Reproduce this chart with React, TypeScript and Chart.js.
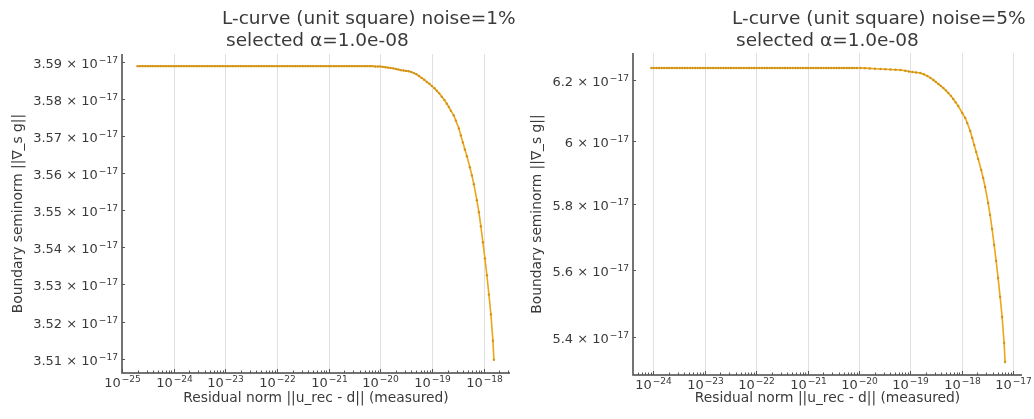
import React, { useEffect, useRef } from "react";
import { Chart, registerables } from "chart.js";

Chart.register(...registerables);

const W = 1034;
const H = 419;

// ---------- noise = 1% ----------
const residual1 = [
  2.00e-25, 2.24e-25, 2.51e-25, 2.82e-25, 3.16e-25, 3.55e-25, 3.98e-25, 4.47e-25, 5.01e-25, 5.62e-25, 6.31e-25, 7.08e-25, 7.94e-25, 8.91e-25,
  1.00e-24, 1.12e-24, 1.26e-24, 1.41e-24, 1.58e-24, 1.78e-24, 2.00e-24, 2.24e-24, 2.51e-24, 2.82e-24, 3.16e-24, 3.55e-24, 3.98e-24, 4.47e-24, 5.01e-24, 5.62e-24, 6.31e-24, 7.08e-24, 7.94e-24, 8.91e-24,
  1.00e-23, 1.12e-23, 1.26e-23, 1.41e-23, 1.58e-23, 1.78e-23, 2.00e-23, 2.24e-23, 2.51e-23, 2.82e-23, 3.16e-23, 3.55e-23, 3.98e-23, 4.47e-23, 5.01e-23, 5.62e-23, 6.31e-23, 7.08e-23, 7.94e-23, 8.91e-23,
  1.00e-22, 1.12e-22, 1.26e-22, 1.41e-22, 1.58e-22, 1.78e-22, 2.00e-22, 2.24e-22, 2.51e-22, 2.82e-22, 3.16e-22, 3.55e-22, 3.98e-22, 4.47e-22, 5.01e-22, 5.62e-22, 6.31e-22, 7.08e-22, 7.94e-22, 8.91e-22,
  1.00e-21, 1.12e-21, 1.26e-21, 1.41e-21, 1.58e-21, 1.78e-21, 2.00e-21, 2.24e-21, 2.51e-21, 2.82e-21, 3.16e-21, 3.55e-21, 3.98e-21, 4.47e-21, 5.01e-21, 5.62e-21, 6.31e-21, 7.08e-21, 7.94e-21, 8.91e-21,
  1.00e-20, 1.12e-20, 1.26e-20, 1.41e-20, 1.58e-20, 1.78e-20, 2.00e-20, 2.24e-20, 2.51e-20, 2.82e-20,
  3.16e-20, 3.55e-20, 3.98e-20, 4.47e-20, 5.01e-20, 5.62e-20, 6.31e-20, 7.08e-20, 7.94e-20, 8.91e-20,
  9.96e-20, 1.12e-19, 1.24e-19, 1.38e-19, 1.55e-19, 1.74e-19, 1.94e-19, 2.12e-19, 2.32e-19, 2.65e-19,
  2.90e-19, 3.32e-19, 3.63e-19, 3.96e-19, 4.34e-19, 4.74e-19, 5.42e-19, 5.93e-19, 6.47e-19, 7.41e-19,
  8.09e-19, 8.85e-19, 9.68e-19, 1.059e-18, 1.156e-18, 1.265e-18, 1.384e-18, 1.514e-18, 1.58e-18,
];
const seminorm1 = [
  3.5889e-17, 3.5889e-17, 3.5889e-17, 3.5889e-17, 3.5889e-17, 3.5889e-17, 3.5889e-17, 3.5889e-17, 3.5889e-17, 3.5889e-17, 3.5889e-17, 3.5889e-17, 3.5889e-17, 3.5889e-17,
  3.5889e-17, 3.5889e-17, 3.5889e-17, 3.5889e-17, 3.5889e-17, 3.5889e-17, 3.5889e-17, 3.5889e-17, 3.5889e-17, 3.5889e-17, 3.5889e-17, 3.5889e-17, 3.5889e-17, 3.5889e-17, 3.5889e-17, 3.5889e-17, 3.5889e-17, 3.5889e-17, 3.5889e-17, 3.5889e-17,
  3.5889e-17, 3.5889e-17, 3.5889e-17, 3.5889e-17, 3.5889e-17, 3.5889e-17, 3.5889e-17, 3.5889e-17, 3.5889e-17, 3.5889e-17, 3.5889e-17, 3.5889e-17, 3.5889e-17, 3.5889e-17, 3.5889e-17, 3.5889e-17, 3.5889e-17, 3.5889e-17, 3.5889e-17, 3.5889e-17,
  3.5889e-17, 3.5889e-17, 3.5889e-17, 3.5889e-17, 3.5889e-17, 3.5889e-17, 3.5889e-17, 3.5889e-17, 3.5889e-17, 3.5889e-17, 3.5889e-17, 3.5889e-17, 3.5889e-17, 3.5889e-17, 3.5889e-17, 3.5889e-17, 3.5889e-17, 3.5889e-17, 3.5889e-17, 3.5889e-17,
  3.5889e-17, 3.5889e-17, 3.5889e-17, 3.5889e-17, 3.5889e-17, 3.5889e-17, 3.5889e-17, 3.5889e-17, 3.5889e-17, 3.5889e-17, 3.5889e-17, 3.5889e-17, 3.5889e-17, 3.5889e-17, 3.5889e-17, 3.5889e-17, 3.5889e-17, 3.5889e-17, 3.5888e-17, 3.5888e-17,
  3.5888e-17, 3.5887e-17, 3.5886e-17, 3.5885e-17, 3.5884e-17, 3.5883e-17, 3.5881e-17, 3.5880e-17, 3.5878e-17, 3.5877e-17,
  3.5876e-17, 3.5875e-17, 3.5873e-17, 3.5870e-17, 3.5867e-17, 3.5862e-17, 3.5857e-17, 3.5852e-17, 3.5846e-17, 3.5841e-17,
  3.5835e-17, 3.5829e-17, 3.5822e-17, 3.5815e-17, 3.5806e-17, 3.5797e-17, 3.5787e-17, 3.5778e-17, 3.5768e-17, 3.5755e-17,
  3.5741e-17, 3.5720e-17, 3.5701e-17, 3.5682e-17, 3.5663e-17, 3.5645e-17, 3.5615e-17, 3.5593e-17, 3.5569e-17, 3.5526e-17,
  3.5494e-17, 3.5456e-17, 3.5413e-17, 3.5370e-17, 3.5325e-17, 3.5273e-17, 3.5220e-17, 3.5150e-17, 3.5099e-17,
];

// ---------- noise = 5% ----------
const residual5 = [
  9.12e-25,
  1.02e-24, 1.15e-24, 1.29e-24, 1.45e-24, 1.62e-24, 1.82e-24, 2.04e-24, 2.29e-24, 2.57e-24, 2.88e-24, 3.24e-24, 3.63e-24, 4.07e-24, 4.57e-24, 5.13e-24, 5.75e-24, 6.46e-24, 7.24e-24, 8.13e-24, 9.12e-24,
  1.02e-23, 1.15e-23, 1.29e-23, 1.45e-23, 1.62e-23, 1.82e-23, 2.04e-23, 2.29e-23, 2.57e-23, 2.88e-23, 3.24e-23, 3.63e-23, 4.07e-23, 4.57e-23, 5.13e-23, 5.75e-23, 6.46e-23, 7.24e-23, 8.13e-23, 9.12e-23,
  1.02e-22, 1.15e-22, 1.29e-22, 1.45e-22, 1.62e-22, 1.82e-22, 2.04e-22, 2.29e-22, 2.57e-22, 2.88e-22, 3.24e-22, 3.63e-22, 4.07e-22, 4.57e-22, 5.13e-22, 5.75e-22, 6.46e-22, 7.24e-22, 8.13e-22, 9.12e-22,
  1.02e-21, 1.15e-21, 1.29e-21, 1.45e-21, 1.62e-21, 1.82e-21, 2.04e-21, 2.29e-21, 2.57e-21, 2.88e-21, 3.24e-21, 3.63e-21, 4.07e-21, 4.57e-21, 5.13e-21, 5.75e-21, 6.46e-21, 7.24e-21, 8.13e-21, 9.12e-21,
  1.07e-20, 1.29e-20, 1.62e-20, 2.04e-20, 2.62e-20, 3.24e-20, 4.07e-20, 5.13e-20, 6.40e-20, 7.94e-20,
  9.33e-20, 1.094e-19, 1.29e-19, 1.563e-19, 1.82e-19, 2.13e-19, 2.45e-19, 2.79e-19, 3.13e-19, 3.49e-19,
  3.89e-19, 4.37e-19, 4.90e-19, 5.45e-19, 6.10e-19, 6.81e-19, 7.60e-19, 8.51e-19, 1.019e-18, 1.164e-18,
  1.274e-18, 1.456e-18, 1.592e-18, 1.738e-18, 1.901e-18, 2.08e-18, 2.38e-18, 2.60e-18, 2.84e-18, 3.25e-18,
  3.55e-18, 3.88e-18, 4.25e-18, 4.65e-18, 5.07e-18, 5.55e-18, 6.07e-18, 6.64e-18, 6.93e-18,
];
const seminorm5 = [
  6.2400e-17,
  6.2400e-17, 6.2400e-17, 6.2400e-17, 6.2400e-17, 6.2400e-17, 6.2400e-17, 6.2400e-17, 6.2400e-17, 6.2400e-17, 6.2400e-17, 6.2400e-17, 6.2400e-17, 6.2400e-17, 6.2400e-17, 6.2400e-17, 6.2400e-17, 6.2400e-17, 6.2400e-17, 6.2400e-17, 6.2400e-17,
  6.2400e-17, 6.2400e-17, 6.2400e-17, 6.2400e-17, 6.2400e-17, 6.2400e-17, 6.2400e-17, 6.2400e-17, 6.2400e-17, 6.2400e-17, 6.2400e-17, 6.2400e-17, 6.2400e-17, 6.2400e-17, 6.2400e-17, 6.2400e-17, 6.2400e-17, 6.2400e-17, 6.2400e-17, 6.2400e-17,
  6.2400e-17, 6.2400e-17, 6.2400e-17, 6.2400e-17, 6.2400e-17, 6.2400e-17, 6.2400e-17, 6.2400e-17, 6.2400e-17, 6.2400e-17, 6.2400e-17, 6.2400e-17, 6.2400e-17, 6.2400e-17, 6.2400e-17, 6.2400e-17, 6.2400e-17, 6.2400e-17, 6.2400e-17, 6.2400e-17,
  6.2400e-17, 6.2400e-17, 6.2400e-17, 6.2400e-17, 6.2400e-17, 6.2400e-17, 6.2400e-17, 6.2400e-17, 6.2400e-17, 6.2400e-17, 6.2400e-17, 6.2400e-17, 6.2400e-17, 6.2400e-17, 6.2400e-17, 6.2400e-17, 6.2400e-17, 6.2400e-17, 6.2400e-17, 6.2400e-17,
  6.2400e-17, 6.2395e-17, 6.2388e-17, 6.2378e-17, 6.2367e-17, 6.2358e-17, 6.2350e-17, 6.2342e-17, 6.2333e-17, 6.2310e-17,
  6.2285e-17, 6.2267e-17, 6.2250e-17, 6.2233e-17, 6.2190e-17, 6.2133e-17, 6.2070e-17, 6.2000e-17, 6.1935e-17, 6.1867e-17,
  6.1805e-17, 6.1734e-17, 6.1655e-17, 6.1569e-17, 6.1475e-17, 6.1371e-17, 6.1260e-17, 6.1141e-17, 6.0911e-17, 6.0748e-17,
  6.0585e-17, 6.0327e-17, 6.0099e-17, 5.9874e-17, 5.9649e-17, 5.9426e-17, 5.9076e-17, 5.8822e-17, 5.8539e-17, 5.8038e-17,
  5.7665e-17, 5.7233e-17, 5.6747e-17, 5.6262e-17, 5.5751e-17, 5.5186e-17, 5.4596e-17, 5.3839e-17, 5.3292e-17,
];

// ---------- ticks & labels ----------
const xTickExp1 = [-25, -24, -23, -22, -21, -20, -19, -18];
const xTickExp5 = [-24, -23, -22, -21, -20, -19, -18, -17];
const yTicks1 = [3.51e-17, 3.52e-17, 3.53e-17, 3.54e-17, 3.55e-17, 3.56e-17, 3.57e-17, 3.58e-17, 3.59e-17];
const yTickMant1 = ["3.51", "3.52", "3.53", "3.54", "3.55", "3.56", "3.57", "3.58", "3.59"];
const yTicks5 = [5.4e-17, 5.6e-17, 5.8e-17, 6.0e-17, 6.2e-17];
const yTickMant5 = ["5.4", "5.6", "5.8", "6", "6.2"];
const yTickExp = -17;
const title1 = ["L-curve (unit square) noise=1%", "selected \u03b1=1.0e-08"];
const title5 = ["L-curve (unit square) noise=5%", "selected \u03b1=1.0e-08"];
const xTitle = "Residual norm ||u_rec - d|| (measured)";
const yTitle = "Boundary seminorm ||\u2207_s g||";

const FONT = '"DejaVu Sans", "Liberation Sans", sans-serif';
const TXT = "#3a3a3a";
const LINE = "#eca61b";
const POINT = "#cf9418";

interface Panel {
  residual: number[];
  seminorm: number[];
  xTickExp: number[];
  yTicks: number[];
  yTickMant: string[];
  title: string[];
  xMin: number; xMax: number; yMin: number; yMax: number;
  pad: { left: number; right: number; top: number; bottom: number };
  titleX: number;
  yTitleX: number;
}

const panel1: Panel = {
  residual: residual1, seminorm: seminorm1, xTickExp: xTickExp1,
  yTicks: yTicks1, yTickMant: yTickMant1, title: title1,
  xMin: 1e-25, xMax: 3.24e-18, yMin: 3.5064e-17, yMax: 3.5922e-17,
  pad: { left: 122, right: W - 510, top: 54, bottom: H - 373 },
  titleX: 222, yTitleX: 18,
};
const panel5: Panel = {
  residual: residual5, seminorm: seminorm5, xTickExp: xTickExp5,
  yTicks: yTicks5, yTickMant: yTickMant5, title: title5,
  xMin: 4.28e-25, xMax: 1.48e-17, yMin: 5.2921e-17, yMax: 6.2905e-17,
  pad: { left: 633, right: W - 1022, top: 53, bottom: H - 375 },
  titleX: 732, yTitleX: 537,
};

function drawPow(ctx: CanvasRenderingContext2D, base: string, exp: string, x: number, y: number, align: "center" | "right", size: number) {
  const bf = `${size}px ${FONT}`;
  const ss = size * 0.7;
  const sf = `${ss}px ${FONT}`;
  ctx.font = bf;
  const wb = ctx.measureText(base).width;
  ctx.font = sf;
  const we = ctx.measureText(exp).width;
  const total = wb + 1 + we;
  const x0 = align === "center" ? x - total / 2 : x - total;
  ctx.textAlign = "left";
  ctx.textBaseline = "alphabetic";
  ctx.font = bf;
  ctx.fillText(base, x0, y);
  ctx.font = sf;
  ctx.fillText(exp, x0 + wb + 1, y - size * 0.38);
}

function makeAxesPlugin(p: Panel) {
  return {
    id: "mplAxes",
    beforeDatasetsDraw(chart: any) {
      const { ctx, chartArea: a } = chart;
      const xs = chart.scales.x;
      ctx.save();
      ctx.strokeStyle = "#e0e0e0";
      ctx.lineWidth = 1;
      for (const e of p.xTickExp) {
        const px = Math.round(xs.getPixelForValue(Math.pow(10, e))) + 0.5;
        if (px < a.left + 2 || px > a.right + 1) continue;
        ctx.beginPath();
        ctx.moveTo(px, a.top);
        ctx.lineTo(px, a.bottom);
        ctx.stroke();
      }
      ctx.restore();
    },
    afterDraw(chart: any) {
      const { ctx, chartArea: a } = chart;
      const xs = chart.scales.x;
      const ys = chart.scales.y;
      ctx.save();
      // spines
      ctx.strokeStyle = "#454545";
      ctx.lineWidth = 1.5;
      ctx.beginPath();
      ctx.moveTo(a.left, a.top);
      ctx.lineTo(a.left, a.bottom);
      ctx.lineTo(a.right, a.bottom);
      ctx.stroke();

      // x minor ticks
      ctx.lineWidth = 1;
      ctx.strokeStyle = "#555";
      const eLo = Math.floor(Math.log10(p.xMin));
      const eHi = Math.ceil(Math.log10(p.xMax));
      for (let e = eLo; e <= eHi; e++) {
        for (let m = 2; m <= 9; m++) {
          const v = m * Math.pow(10, e);
          if (v < p.xMin || v > p.xMax) continue;
          const px = Math.round(xs.getPixelForValue(v)) + 0.5;
          ctx.beginPath();
          ctx.moveTo(px, a.bottom);
          ctx.lineTo(px, a.bottom - 2.5);
          ctx.stroke();
        }
      }
      // x major ticks + labels
      ctx.fillStyle = TXT;
      for (const e of p.xTickExp) {
        const v = Math.pow(10, e);
        const px = Math.round(xs.getPixelForValue(v)) + 0.5;
        ctx.beginPath();
        ctx.moveTo(px, a.bottom);
        ctx.lineTo(px, a.bottom - 4);
        ctx.stroke();
        drawPow(ctx, "10", "\u2212" + String(-e), px, a.bottom + 14, "center", 13);
      }
      // y ticks + labels
      p.yTicks.forEach((v, i) => {
        const py = Math.round(ys.getPixelForValue(v)) + 0.5;
        ctx.beginPath();
        ctx.moveTo(a.left, py);
        ctx.lineTo(a.left + 3, py);
        ctx.stroke();
        drawPow(ctx, p.yTickMant[i] + " \u00d7 10", "\u2212" + String(-yTickExp), a.left - 4, py + 5, "right", 13);
      });

      // axis titles
      ctx.font = `13.8px ${FONT}`;
      ctx.textAlign = "center";
      ctx.textBaseline = "middle";
      ctx.fillText(xTitle, (a.left + a.right) / 2, 398);
      ctx.save();
      ctx.translate(p.yTitleX, (a.top + a.bottom) / 2);
      ctx.rotate(-Math.PI / 2);
      ctx.fillText(yTitle, 0, 0);
      ctx.restore();

      // chart title (two lines)
      ctx.font = `18.5px ${FONT}`;
      ctx.textAlign = "left";
      ctx.textBaseline = "alphabetic";
      ctx.fillText(p.title[0], p.titleX, 24);
      ctx.fillText(p.title[1], p.titleX + 4, 46);
      ctx.restore();
    },
  };
}

function makeChart(canvas: HTMLCanvasElement, p: Panel) {
  const pts = p.residual.map((r, i) => ({ x: r, y: p.seminorm[i] }));
  return new Chart(canvas, {
    type: "scatter",
    data: {
      datasets: [
        {
          data: pts,
          showLine: true,
          borderColor: LINE,
          borderWidth: 1.6,
          pointRadius: 1.2,
          pointBackgroundColor: POINT,
          pointBorderColor: POINT,
          pointBorderWidth: 0,
          tension: 0,
        } as any,
      ],
    },
    options: {
      responsive: false,
      animation: false,
      devicePixelRatio: 1,
      events: [],
      layout: { padding: p.pad },
      plugins: { legend: { display: false }, tooltip: { enabled: false }, title: { display: false } },
      scales: {
        x: { type: "logarithmic", display: false, min: p.xMin, max: p.xMax },
        y: { type: "logarithmic", display: false, min: p.yMin, max: p.yMax },
      },
    },
    plugins: [makeAxesPlugin(p)],
  });
}

export default function App() {
  const ref1 = useRef<HTMLCanvasElement>(null);
  const ref5 = useRef<HTMLCanvasElement>(null);
  useEffect(() => {
    const c1 = makeChart(ref1.current!, panel1);
    const c5 = makeChart(ref5.current!, panel5);
    return () => {
      c1.destroy();
      c5.destroy();
    };
  }, []);
  return (
    <div style={{ position: "fixed", left: 0, top: 0, width: W, height: H, background: "#fff" }}>
      <canvas ref={ref1} width={W} height={H} style={{ position: "absolute", left: 0, top: 0 }} />
      <canvas ref={ref5} width={W} height={H} style={{ position: "absolute", left: 0, top: 0 }} />
    </div>
  );
}
